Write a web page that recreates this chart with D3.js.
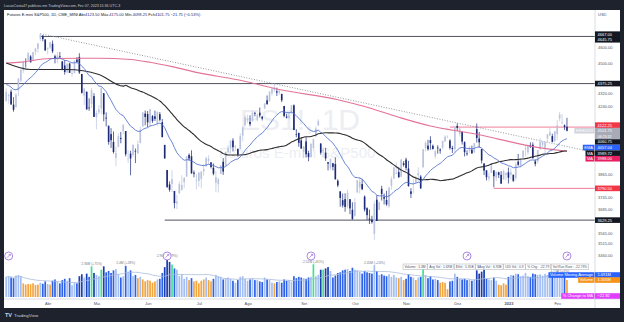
<!DOCTYPE html>
<html>
<head>
<meta charset="utf-8">
<script src="https://cdn.jsdelivr.net/npm/d3@7"></script>
<style>
  html, body { margin: 0; padding: 0; background: #1e222d; overflow: hidden; }
  svg { display: block; font-family: "Liberation Sans", Arial, sans-serif; }
</style>
</head>
<body>
<svg id="chart" width="624" height="322"></svg>
<script>
// trading calendar (CME closed days)
const firstDay = "2022-03-09";
const lastDay = "2023-02-07";
const holidays = ["2022-04-15", "2022-05-30", "2022-06-20", "2022-07-04", "2022-09-05",
                  "2022-11-24", "2022-12-26", "2023-01-02", "2023-01-16"];

// daily candles, one line per month (Mar 2022 .. Feb 2023)
const opens = [
  4271,4301,4327,4251,4236,4336,4393,4455,4510,4517,4541,4517,4571,4589,4651,4672,4647,
  4588,4595,4620,4542,4522,4542,4510,4485,4442,4497,4433,4438,4521,4538,4433,4304,4327,4234,4255,4301,
  4178,4207,4229,4318,4176,4130,4083,4039,3952,4011,4061,4101,4100,3948,3975,3968,3990,3977,4033,4125,4199,
  4197,4144,4185,4183,4145,4196,4150,4023,3887,3811,3813,3777,3713,3764,3782,3823,3852,3968,3961,3873,3833,
  3829,3840,3879,3906,3936,3928,3899,3820,3812,3866,3931,3909,3983,4003,4047,4013,4001,3999,4074,4135,
  4160,4152,4155,4203,4164,4204,4181,4229,4276,4273,4317,4338,4329,4321,4314,4243,4182,4174,4202,4247,4082,4089,4048,
  3985,4042,3978,3958,4007,4070,4131,4030,3989,3980,3929,3897,3923,3919,3830,3775,3730,3735,3699,3735,3681,
  3651,3769,3795,3813,3748,3689,3637,3632,3562,3732,3680,3788,3745,3731,3699,3804,3841,3867,3876,3851,3923,
  3943,3895,3775,3809,3822,3859,3852,3901,4005,4019,4049,4018,3961,4008,3998,4007,4042,4065,4047,4006,3999,
  4129,4083,4095,4038,3976,3989,3996,3982,4111,4058,4000,3922,3885,3842,3871,3885,3847,3875,3861,3837,3861,
  3875,3862,3862,3845,3932,3910,3954,3999,3982,4021,4024,3933,3932,4001,4023,4004,4058,4075,4072,4043,
  4083,4171,4149,4132,4123.5
];
const highs = [
  4347,4316,4340,4295,4319,4406,4460,4513,4529,4570,4549,4569,4594,4624,4685,4675,4651,
  4597,4631,4641,4552,4569,4568,4512,4519,4501,4501,4459,4519,4537,4561,4434,4348,4327,4288,4348,4318,
  4217,4248,4356,4318,4206,4130,4116,4098,4013,4087,4095,4138,4100,3994,3991,4029,4003,4047,4123,4206,4217,
  4214,4225,4191,4216,4212,4208,4168,4023,3887,3827,3886,3777,3756,3827,3859,3850,3962,3976,3993,3884,3866,
  3877,3880,3919,3958,3966,3928,3922,3882,3845,3912,3951,3987,4023,4047,4060,4023,4002,4088,4126,4189,
  4192,4189,4215,4209,4199,4234,4185,4259,4305,4328,4349,4373,4351,4341,4314,4244,4198,4204,4248,4252,4110,4092,4063,
  4018,4066,3990,4035,4058,4125,4167,4033,4010,4007,3929,3948,3925,3955,3838,3775,3764,3765,3784,3735,3719,
  3740,3833,3849,3839,3754,3694,3682,3651,3727,3755,3723,3804,3764,3778,3799,3852,3904,3928,3902,3947,3935,
  3953,3936,3792,3838,3855,3901,3860,4001,4043,4051,4071,4025,3997,4021,4004,4046,4076,4076,4054,4018,4122,
  4143,4122,4095,4043,3993,4016,4019,4033,4143,4095,4000,3922,3886,3871,3921,3885,3878,3878,3881,3890,3872,
  3900,3895,3862,3928,3973,3941,3992,4019,4025,4037,4037,3944,3995,4061,4045,4042,4083,4117,4085,4099,
  4162,4208,4196,4137,4175
];
const lows = [
  4271,4257,4250,4210,4235,4300,4383,4438,4472,4517,4503,4513,4549,4565,4637,4636,4578,
  4555,4587,4562,4498,4498,4532,4456,4429,4440,4440,4419,4438,4503,4433,4316,4249,4223,4215,4231,4180,
  4110,4195,4196,4155,4126,4024,4006,3976,3907,4011,4032,4081,3960,3925,3859,3957,3924,3973,4033,4125,4132,
  4122,4123,4146,4157,4129,4155,4065,3948,3792,3773,3771,3688,3685,3764,3779,3791,3852,3937,3868,3848,3786,
  3800,3791,3858,3906,3917,3895,3859,3770,3769,3866,3861,3909,3977,3976,3987,3992,3959,3999,4042,4128,
  4145,4127,4155,4183,4155,4176,4160,4225,4249,4267,4304,4325,4302,4309,4266,4178,4171,4167,4195,4105,4065,4013,4002,
  3951,3955,3934,3955,3992,4070,4131,3969,3960,3936,3885,3887,3885,3837,3797,3696,3692,3671,3688,3659,3632,
  3646,3769,3764,3781,3672,3630,3610,3612,3533,3625,3680,3728,3708,3701,3689,3783,3841,3866,3845,3850,3905,
  3885,3800,3741,3764,3815,3828,3787,3901,3987,3991,3996,3997,3948,3975,3975,3998,4041,4063,3997,3979,3980,
  4100,4069,4025,3960,3964,3977,3975,3979,4036,4008,3922,3860,3832,3827,3871,3796,3828,3845,3815,3837,3833,
  3816,3837,3824,3831,3909,3899,3950,3959,3969,4006,3947,3907,3922,3993,4011,3972,4035,4071,4037,4042,
  4051,4154,4137,4106,4098.25
];
const closes = [
  4326,4308,4252,4221,4310,4406,4460,4511,4509,4560,4505,4568,4591,4623,4680,4650,4578,
  4594,4631,4573,4529,4548,4536,4461,4445,4495,4440,4439,4511,4507,4442,4320,4345,4223,4231,4336,4180,
  4203,4223,4348,4195,4171,4039,4049,3984,3978,4072,4056,4136,3972,3949,3949,4022,3989,4027,4106,4206,4180,
  4149,4225,4157,4169,4209,4164,4066,3949,3798,3783,3838,3715,3723,3813,3808,3844,3960,3949,3869,3867,3833,
  3873,3879,3893,3951,3947,3903,3867,3849,3838,3911,3879,3985,4008,4047,4010,4015,3969,4072,4120,4178,
  4167,4139,4203,4200,4193,4188,4170,4258,4255,4328,4345,4353,4322,4332,4276,4186,4176,4189,4247,4106,4079,4034,4003,
  4015,3972,3956,4028,4054,4115,4158,3980,3994,3949,3921,3947,3904,3838,3806,3741,3703,3695,3767,3688,3634,
  3720,3833,3825,3786,3682,3654,3631,3619,3712,3625,3719,3762,3737,3708,3794,3839,3901,3872,3849,3943,3914,
  3898,3802,3762,3813,3849,3870,3791,3998,4035,3999,4033,4001,3989,4007,3992,4045,4069,4068,4006,4000,4122,
  4118,4114,4041,3983,3975,4005,3976,4033,4061,4037,3938,3884,3849,3853,3911,3854,3877,3861,3815,3881,3872,
  3846,3875,3830,3917,3915,3941,3992,4005,4021,4013,3951,3920,3995,4041,4039,4038,4082,4093,4040,4099,
  4132,4193,4149,4123.5,4101.75
];
// volume, millions of contracts
const volumes = [
  1.55,1.60,1.50,1.45,1.65,1.70,1.60,1.05,0.95,1.00,0.98,1.05,0.92,0.95,1.10,1.02,1.20,
  1.00,0.95,1.25,1.35,1.20,1.05,1.30,1.40,1.25,1.45,0.90,1.10,1.05,1.60,1.75,1.50,1.80,1.55,2.36,1.85,
  1.70,1.60,2.10,2.36,1.90,2.00,1.85,2.05,2.15,1.75,1.50,1.60,2.40,1.95,2.05,1.60,1.70,1.45,1.55,1.35,1.20,
  1.30,1.25,1.10,1.20,1.35,1.40,1.85,2.30,2.96,2.70,2.50,2.20,2.10,1.60,1.75,1.40,1.55,1.30,1.45,1.20,1.25,
  1.05,1.25,1.35,1.50,1.30,1.20,1.40,1.70,1.60,1.55,1.35,1.45,1.50,1.40,1.25,1.10,1.30,1.55,1.60,1.40,
  1.25,1.35,1.45,1.30,1.30,1.20,1.15,1.50,1.35,1.30,1.10,1.05,1.15,1.20,1.10,1.35,1.25,1.30,1.20,1.60,1.45,1.55,1.50,
  1.45,1.40,1.50,1.55,2.52,1.60,1.70,2.10,2.10,2.20,2.30,2.00,1.50,1.65,1.85,1.90,2.05,2.10,2.15,2.00,2.25,
  2.10,2.05,1.95,1.80,2.00,1.90,1.85,1.80,2.45,2.00,1.70,1.75,1.65,1.60,1.75,1.55,1.70,1.50,1.45,1.55,1.30,
  1.40,1.75,1.55,1.50,1.30,1.50,1.55,2.20,1.70,1.45,1.60,1.35,1.40,1.30,1.10,1.15,1.10,0.60,1.20,1.25,1.80,
  1.55,1.40,1.35,1.40,1.30,1.35,1.25,1.35,2.05,1.80,1.95,2.10,1.40,1.35,1.30,1.50,1.25,0.95,0.90,1.05,0.95,
  1.55,1.70,1.65,1.80,1.75,1.60,1.65,1.85,1.60,1.55,1.80,1.75,1.70,1.75,1.65,1.78,1.70,1.60,1.55,1.75,
  2.00,1.77,1.91,1.55,1.305
];

const monthLabels = ["Abr", "Mai", "Jun", "Jul", "Ago", "Set", "Out", "Nov", "Dez", "2023", "Fev"];
const priceTicks = [4600, 4500, 4400, 4320, 4240, 4160, 3865, 3805, 3745, 3685, 3565, 3515, 3460];

// moving averages
const emaSeed = 4370;
const ma50EarlyDates = ["2022-03-09", "2022-03-23", "2022-04-13", "2022-05-03", "2022-05-17"];
const ma50EarlyValues = [4500, 4460, 4460, 4430, 4360];
const ma200Dates = ["2022-03-09", "2022-03-17", "2022-04-04", "2022-05-03", "2022-05-20", "2022-06-02",
                    "2022-06-15", "2022-07-01", "2022-07-26", "2022-08-18", "2022-09-22", "2022-10-07",
                    "2022-10-27", "2022-11-15", "2022-12-13", "2022-12-27", "2023-01-17", "2023-02-07"];
const ma200Values = [4500, 4506, 4528, 4530, 4522, 4505, 4478, 4440, 4398, 4340, 4280, 4240,
                     4178, 4128, 4082, 4055, 4016, 3988];

// drawings
const hLineStarts = ["2022-03-29", "2022-03-09", "2022-06-10", "2022-11-28", "2022-12-22"];
const hLineValues = [4667, 4375.25, 3629.25, 4122.25, 3790.5];
const extraLevels = [4645.75, 4060.75];
const trendDates = ["2022-03-29", "2023-02-07"];
const trendValues = [4685, 4014];
const eventDates = ["2022-03-10", "2022-06-13", "2022-09-07", "2022-12-07", "2023-02-07"];
const volNoteDates = ["2022-04-28", "2022-05-18", "2022-06-13", "2022-09-08", "2022-10-13", "2023-02-02"];
const statusTexts = ["Volume : 1.3M", "Avg Vol : 1.69M", "$Vol : 5.35B", "$Avg Vol : 6.92B",
                     "U/D Vol : 0.9", "% Chg : -22.79", "Vol Run Rate : -22.73%"];

// ---------------------------------------------------------------
const parse = d3.timeParse("%Y-%m-%d"), fmt = d3.timeFormat("%Y-%m-%d");
const dates = d3.timeDay.range(parse(firstDay), d3.timeDay.offset(parse(lastDay), 1))
  .filter(d => d.getDay() !== 0 && d.getDay() !== 6 && !holidays.includes(fmt(d)));
const idx = new Map(dates.map((d, i) => [fmt(d), i]));
const bars = dates.map((d, i) => ({ i, date: d, o: opens[i], h: highs[i], l: lows[i], c: closes[i], v: volumes[i] }));
const n = bars.length;

const W = 624, H = 322;
const padL = 4, padR = 595, padT = 10, paneBottom = 299;
const f2 = d3.format(".2f");
const minus = s => s.replace("-", "\u2212");

const x = d3.scaleLinear().domain([-0.5, n + 10.5]).range([padL + 1, padR]);
const y = d3.scaleLog().domain([3460, 4600]).range([255, 47]);
const vy = d3.scaleLinear().domain([0, 3.2]).range([297, 255.4]);

const upCol = "#bac3de", downCol = "#1b2a78";

// indicators
const k = 2 / 21;
const ema = [];
closes.forEach((c, i) => ema.push(i ? ema[i - 1] + k * (c - ema[i - 1]) : emaSeed));
const ma50 = ma50EarlyDates.map((d, j) => ({ i: idx.get(d), v: ma50EarlyValues[j] }))
  .concat(bars.filter(b => b.i >= 49).map(b => ({ i: b.i, v: d3.mean(closes.slice(b.i - 49, b.i + 1)) })));
const ma200 = ma200Dates.map((d, j) => ({ i: idx.get(d), v: ma200Values[j] }));
const volMA = volumes.map((v, i) => d3.mean(volumes.slice(Math.max(0, i - 19), i + 1)));

const svg = d3.select("#chart");
svg.append("rect").attr("width", W).attr("height", H).attr("fill", "#1e222d");
svg.append("rect").attr("x", padL).attr("y", padT).attr("width", 620 - padL).attr("height", 308 - padT).attr("fill", "#ffffff");

svg.append("clipPath").attr("id", "clip").append("rect")
  .attr("x", padL).attr("y", padT).attr("width", padR - padL).attr("height", paneBottom - padT);

// watermark
svg.append("text").attr("x", 300).attr("y", 130).attr("text-anchor", "middle")
  .attr("font-size", 30).attr("fill", "#eceef3").text("ES1!, 1D");
svg.append("text").attr("x", 297).attr("y", 158).attr("text-anchor", "middle")
  .attr("font-size", 15).attr("fill", "#eceef3").text("Futuros E-mini S&P500");

// volume pane
const volColor = d => {
  const r = d.v / volMA[d.i];
  if (r < 0.8) return "#f3a53f";
  if (d.c >= d.o) return r >= 1.3 ? "#3ee38e" : "#a3bff3";
  return r >= 1.3 ? "#1c3fae" : "#2d62e8";
};
const vg = svg.append("g").attr("clip-path", "url(#clip)");
vg.selectAll("rect.vol").data(bars).join("rect")
  .attr("x", d => x(d.i) - 0.85).attr("width", 1.7)
  .attr("y", d => vy(d.v)).attr("height", d => vy(0) - vy(d.v))
  .attr("fill", volColor);
vg.append("path").datum(volMA)
  .attr("fill", "none").attr("stroke", "#a9bbdc").attr("stroke-width", 0.8)
  .attr("d", d3.line().x((d, i) => x(i)).y(d => vy(d)));

volNoteDates.forEach(ds => {
  const i = idx.get(ds);
  const pct = (volumes[i] / volMA[i] - 1) * 100;
  vg.append("text").attr("x", x(i)).attr("y", vy(volumes[i]) - 1.5).attr("text-anchor", "middle")
    .attr("font-size", 3.3).attr("fill", "#787b86")
    .text(`${d3.format(".3~r")(volumes[i])}M (${pct >= 0 ? "+" : ""}${Math.round(pct)}%)`);
});

// status line boxes
let sx = 403;
statusTexts.forEach(t => {
  const g = svg.append("g");
  const r = g.append("rect").attr("y", 264).attr("height", 5.5).attr("fill", "#fff")
    .attr("stroke", "#9598a1").attr("stroke-width", 0.4);
  const tx = g.append("text").attr("x", sx + 1.5).attr("y", 267.9).attr("font-size", 3.3)
    .attr("fill", "#50535e").text(t);
  const w = tx.node().getComputedTextLength() + 3;
  r.attr("x", sx).attr("width", w);
  sx += w + 0.6;
});

// event markers
eventDates.forEach(ds => {
  const cx = x(idx.get(ds)), cy = 256;
  svg.append("circle").attr("cx", cx).attr("cy", cy).attr("r", 4)
    .attr("fill", "#fff").attr("stroke", "#9c6ade").attr("stroke-width", 0.8);
  svg.append("path").attr("d", `M${cx - 1.6},${cy + 1.6}L${cx + 1.6},${cy - 1.6}M${cx + 0.1},${cy - 1.6}H${cx + 1.6}V${cy - 0.1}`)
    .attr("fill", "none").attr("stroke", "#9c6ade").attr("stroke-width", 0.7);
});

// price pane
const pg = svg.append("g").attr("clip-path", "url(#clip)");
const hLineColor = ["#50535e", "#50535e", "#50535e", "#f07c95", "#f07c95"];
hLineValues.forEach((v, j) => {
  const i0 = idx.get(hLineStarts[j]);
  pg.append("line").attr("x1", i0 === 0 ? padL : x(i0)).attr("x2", padR)
    .attr("y1", y(v)).attr("y2", y(v))
    .attr("stroke", hLineColor[j]).attr("stroke-width", 1);
});
{
  const x1 = x(idx.get(trendDates[0])), y1 = y(trendValues[0]);
  const x2 = x(idx.get(trendDates[1])), y2 = y(trendValues[1]);
  const y3 = y1 + (y2 - y1) * (padR - x1) / (x2 - x1);
  pg.append("line").attr("x1", x1).attr("y1", y1).attr("x2", padR).attr("y2", y3)
    .attr("stroke", "#8a8d96").attr("stroke-width", 0.9).attr("stroke-dasharray", "1,1.6");
}

pg.selectAll("line.wick").data(bars).join("line")
  .attr("x1", d => x(d.i)).attr("x2", d => x(d.i))
  .attr("y1", d => y(d.h)).attr("y2", d => y(d.l))
  .attr("stroke", d => d.c >= d.o ? upCol : downCol).attr("stroke-width", 0.7);
pg.selectAll("rect.body").data(bars).join("rect")
  .attr("x", d => x(d.i) - 0.8).attr("width", 1.6)
  .attr("y", d => y(Math.max(d.o, d.c)))
  .attr("height", d => Math.max(0.7, Math.abs(y(d.o) - y(d.c))))
  .attr("fill", d => d.c >= d.o ? upCol : downCol);

const maLine = d3.line().x(d => x(d.i)).y(d => y(d.v)).curve(d3.curveMonotoneX);
pg.append("path").datum(ma200).attr("d", maLine)
  .attr("fill", "none").attr("stroke", "#e47396").attr("stroke-width", 1.1);
pg.append("path").datum(ma50).attr("d", maLine)
  .attr("fill", "none").attr("stroke", "#2e2e2e").attr("stroke-width", 1.1);
pg.append("path").datum(ema.map((v, i) => ({ i, v }))).attr("d", d3.line().x(d => x(d.i)).y(d => y(d.v)))
  .attr("fill", "none").attr("stroke", "#4f6fcf").attr("stroke-width", 0.85);

// axes
svg.append("line").attr("x1", padR).attr("x2", padR).attr("y1", padT).attr("y2", 308)
  .attr("stroke", "#d1d4dc").attr("stroke-width", 0.8);
svg.append("line").attr("x1", padL).attr("x2", 620).attr("y1", paneBottom).attr("y2", paneBottom)
  .attr("stroke", "#d1d4dc").attr("stroke-width", 0.8);

// price scale labels (stacked around the last price like the platform does)
const lh = 5.6;
const last = bars[n - 1], prev = bars[n - 2];
const anchorY = y(last.c);
const marks = hLineValues.concat(extraLevels).map(v => ({
  v, fill: (v === 4122.25 || v === 3790.5) ? "#f23645" : "#131722" }));
marks.push({ v: ema[n - 1], fill: "#2962ff", tag: "EMA" });
marks.push({ v: ma200[ma200.length - 1].v, fill: "#e91e63", tag: "MA" });
marks.push({ v: ma50[ma50.length - 1].v, fill: "#131722", tag: "MA" });
marks.forEach(m => m.y0 = y(m.v));
{
  let lim = anchorY - lh / 2;
  marks.filter(m => m.y0 < anchorY).sort((a, b) => b.y0 - a.y0)
    .forEach(m => { m.y = Math.min(m.y0, lim - lh / 2); lim = m.y - lh / 2; });
  lim = anchorY + lh * 1.5;
  marks.filter(m => m.y0 >= anchorY).sort((a, b) => a.y0 - b.y0)
    .forEach(m => { m.y = Math.max(m.y0, lim + lh / 2); lim = m.y + lh / 2; });
}
const occupied = marks.map(m => m.y).concat([anchorY, anchorY + lh]);
const visibleTicks = priceTicks.filter(t => occupied.every(oy => Math.abs(y(t) - oy) > lh));

const yAxis = d3.axisRight(y).tickValues(visibleTicks).tickFormat(f2).tickSize(0).tickPadding(3);
svg.append("g").attr("transform", `translate(${padR},0)`).call(yAxis)
  .call(g => g.select(".domain").remove())
  .selectAll("text").attr("font-size", 4).attr("fill", "#50535e").attr("font-family", null);
svg.append("text").attr("x", 598).attr("y", 15.5).attr("font-size", 4).attr("fill", "#50535e").text("USD");

const monthIdx = bars.filter(b => b.i > 0 && b.date.getMonth() !== bars[b.i - 1].date.getMonth()).map(b => b.i);
const xAxis = d3.axisBottom(x).tickValues(monthIdx).tickFormat((d, j) => monthLabels[j]).tickSize(0).tickPadding(3);
svg.append("g").attr("transform", `translate(0,${paneBottom})`).call(xAxis)
  .call(g => g.select(".domain").remove())
  .selectAll("text").attr("font-size", 4).attr("fill", "#50535e").attr("font-family", null)
  .attr("font-weight", (d, j) => monthLabels[j] === "2023" ? "bold" : null);

function axisLabel(yc, text, fill, tag, tagFill, textFill) {
  svg.append("rect").attr("x", padR).attr("y", yc - lh / 2).attr("width", 620 - padR).attr("height", lh).attr("fill", fill);
  svg.append("text").attr("x", padR + 2.5).attr("y", yc + 1.4).attr("font-size", 4)
    .attr("fill", textFill || "#fff").text(text);
  if (tag) {
    const t = svg.append("text").attr("y", yc + 1.4).attr("font-size", 4).attr("fill", textFill || "#fff").text(tag);
    const w = t.node().getComputedTextLength() + 3;
    svg.insert("rect", () => t.node()).attr("x", padR - 0.5 - w).attr("y", yc - lh / 2)
      .attr("width", w).attr("height", lh).attr("fill", tagFill || fill);
    t.attr("x", padR - 0.5 - w + 1.5);
  }
}
marks.forEach(m => axisLabel(m.y, f2(m.v), m.fill, m.tag));
// last price with countdown
svg.append("rect").attr("x", padR).attr("y", anchorY - lh / 2).attr("width", 620 - padR).attr("height", lh * 2).attr("fill", "#a8abb5");
svg.append("text").attr("x", padR + 2.5).attr("y", anchorY + 1.4 + lh).attr("font-size", 3.6).attr("fill", "#fff").text("08:23:32");
axisLabel(anchorY, f2(last.c), "#a8abb5", "ESH2023", "#d1d4dc", null);

// volume pane labels
const volPct = (last.v / volMA[n - 1] - 1) * 100;
axisLabel(vy(volMA[n - 1]), d3.format(".3f")(volMA[n - 1]) + "M", "#2962ff", "Volume Moving Average");
axisLabel(vy(last.v), d3.format(".3f")(last.v) + "M", "#f7931a", "Volume");
axisLabel(296, minus(f2(volPct)), "#e040fb", "% Change to MA");

// legend
const chg = last.c - prev.c, pct = chg / prev.c * 100;
const lg = svg.append("text").attr("x", 7).attr("y", 15.5).attr("font-size", 4).attr("fill", "#131722");
lg.append("tspan").text("Futuros E-mini S&P500, 1D, CME_MINI");
[["Abr", last.o], ["Máx.", last.h], ["Mín.", last.l], ["Fch", last.c]].forEach(([lab, v]) => {
  lg.append("tspan").text("  " + lab);
  lg.append("tspan").attr("fill", downCol).text(f2(v));
});
lg.append("tspan").attr("fill", downCol).text(`  ${minus(f2(chg))} (${minus(f2(pct))}%)`);

// header / footer
svg.append("text").attr("x", 4).attr("y", 6.6).attr("font-size", 3.6).attr("fill", "#c8cbd3")
  .text("LucasCosta47 publicou em TradingView.com, Fev 07, 2023 15:36 UTC-3");
svg.append("text").attr("x", 5).attr("y", 317).attr("font-size", 5.5).attr("font-weight", "bold")
  .attr("fill", "#d1d4dc").text("TV");
svg.append("text").attr("x", 14).attr("y", 316.6).attr("font-size", 4.4).attr("fill", "#d1d4dc").text("TradingView");
</script>
</body>
</html>
